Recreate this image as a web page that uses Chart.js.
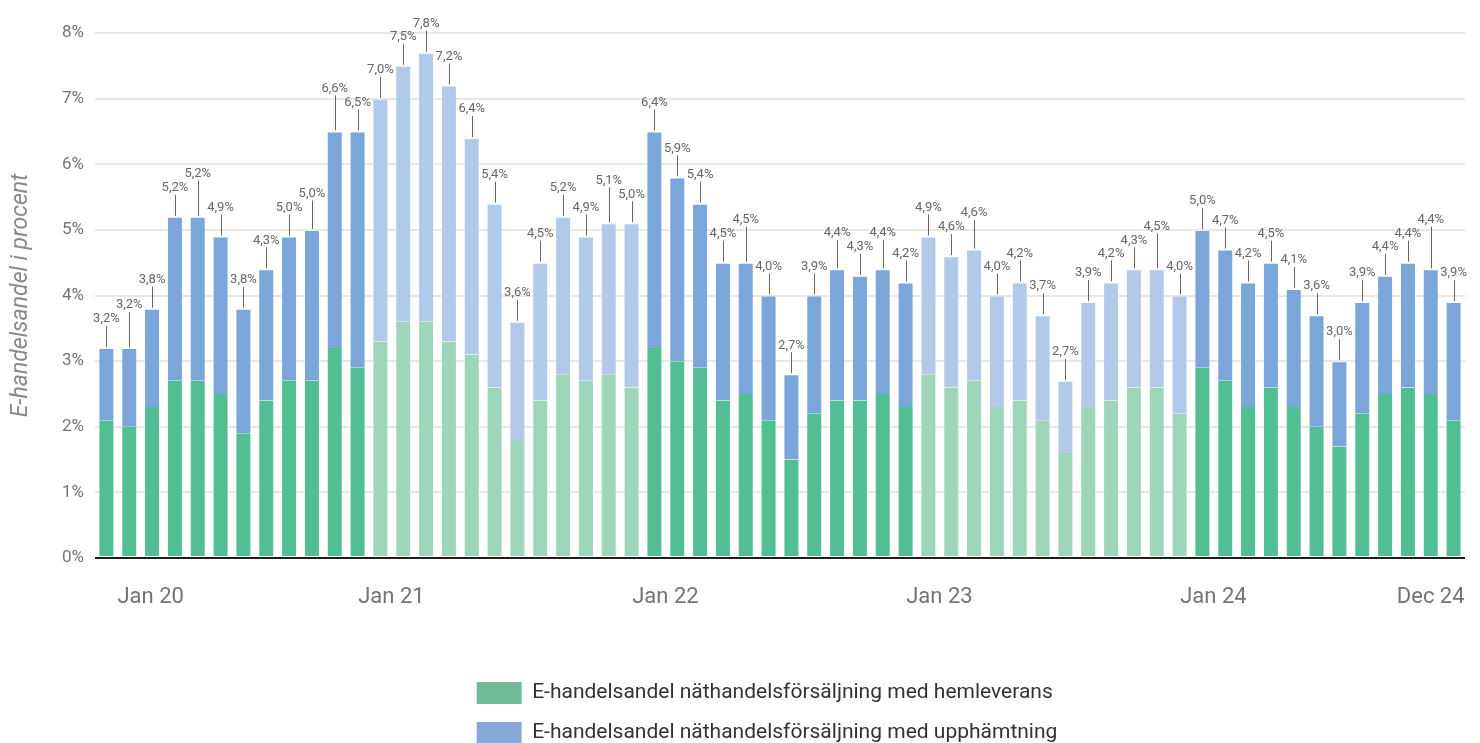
<!DOCTYPE html>
<html>
<head>
<meta charset="utf-8">
<script src="https://cdn.jsdelivr.net/npm/chart.js@4.4.1/dist/chart.umd.min.js"></script>
<style>
  html, body { margin: 0; padding: 0; background: #ffffff; }
  #wrap { width: 1480px; height: 743px; position: relative; }
</style>
</head>
<body>
<div id="wrap"><canvas id="c" width="1480" height="743"></canvas></div>
<script>
// ---------- data ----------
const monthNames = ['Jan','Feb','Mar','Apr','Maj','Jun','Jul','Aug','Sep','Okt','Nov','Dec'];
const years = ['20','21','22','23','24'];
const months = years.flatMap(y => monthNames.map(m => m + ' ' + y));

const tickLabels = ['Jan 20','Jan 21','Jan 22','Jan 23','Jan 24','Dec 24'];
const lightYears = ['21','23'];

// E-handelsandel med hemleverans (%)
const homeDelivery = [
  2.1, 2.0, 2.3, 2.7, 2.7, 2.5, 1.9, 2.4, 2.7, 2.7, 3.2, 2.9,
  3.3, 3.6, 3.6, 3.3, 3.1, 2.6, 1.8, 2.4, 2.8, 2.7, 2.8, 2.6,
  3.2, 3.0, 2.9, 2.4, 2.5, 2.1, 1.5, 2.2, 2.4, 2.4, 2.5, 2.3,
  2.8, 2.6, 2.7, 2.3, 2.4, 2.1, 1.6, 2.3, 2.4, 2.6, 2.6, 2.2,
  2.9, 2.7, 2.3, 2.6, 2.3, 2.0, 1.7, 2.2, 2.5, 2.6, 2.5, 2.1
];
// E-handelsandel med upphämtning (%)
const pickup = [
  1.1, 1.2, 1.5, 2.5, 2.5, 2.4, 1.9, 2.0, 2.2, 2.3, 3.3, 3.6,
  3.7, 3.9, 4.1, 3.9, 3.3, 2.8, 1.8, 2.1, 2.4, 2.2, 2.3, 2.5,
  3.3, 2.8, 2.5, 2.1, 2.0, 1.9, 1.3, 1.8, 2.0, 1.9, 1.9, 1.9,
  2.1, 2.0, 2.0, 1.7, 1.8, 1.6, 1.1, 1.6, 1.8, 1.8, 1.8, 1.8,
  2.1, 2.0, 1.9, 1.9, 1.8, 1.7, 1.3, 1.7, 1.8, 1.9, 1.9, 1.8
];
// Printed total share above each bar (%)
const totalLabels = [
  3.2, 3.2, 3.8, 5.2, 5.2, 4.9, 3.8, 4.3, 5.0, 5.0, 6.6, 6.5,
  7.0, 7.5, 7.8, 7.2, 6.4, 5.4, 3.6, 4.5, 5.2, 4.9, 5.1, 5.0,
  6.4, 5.9, 5.4, 4.5, 4.5, 4.0, 2.7, 3.9, 4.4, 4.3, 4.4, 4.2,
  4.9, 4.6, 4.6, 4.0, 4.2, 3.7, 2.7, 3.9, 4.2, 4.3, 4.5, 4.0,
  5.0, 4.7, 4.2, 4.5, 4.1, 3.6, 3.0, 3.9, 4.4, 4.4, 4.4, 3.9
];

const seriesNames = [
  'E-handelsandel näthandelsförsäljning med hemleverans',
  'E-handelsandel näthandelsförsäljning med upphämtning'
];

// ---------- styles ----------
const COLORS = {
  green: '#52be93', greenLight: '#9dd6ba',
  blue: '#7aa6d9', blueLight: '#b1cae9',
  legend: ['#70bc98', '#86a9d9']
};
const isLight = i => lightYears.includes(months[i].slice(-2));

Chart.defaults.font.family = "Roboto, 'Open Sans', sans-serif";

// Value labels with leader lines, staggered to avoid collisions
const shareLabels = {
  id: 'shareLabels',
  afterDatasetsDraw(chart) {
    const ctx = chart.ctx;
    const topMeta = chart.getDatasetMeta(1).data;
    const n = totalLabels.length;
    const tops = [], xs = [];
    for (let i = 0; i < n; i++) { tops[i] = topMeta[i].y; xs[i] = topMeta[i].x; }
    const order = [...Array(n).keys()].sort((a, b) => (totalLabels[a] - totalLabels[b]) || (a - b));
    const pos = new Array(n);
    const BASE = 29, MIN_GAP = 11, STEP = 14;
    for (const i of order) {
      let y = tops[i] - BASE;
      let moved = true;
      while (moved) {
        moved = false;
        for (const j of [i - 1, i + 1]) {
          if (pos[j] !== undefined && Math.abs(y - pos[j]) < MIN_GAP) { y = pos[j] - STEP; moved = true; }
        }
      }
      pos[i] = y;
    }
    ctx.save();
    ctx.strokeStyle = '#6d6363';
    ctx.lineWidth = 1;
    ctx.fillStyle = '#666666';
    ctx.font = "13px Roboto, 'Open Sans', sans-serif";
    ctx.textAlign = 'center';
    ctx.textBaseline = 'middle';
    for (let i = 0; i < n; i++) {
      const x = Math.round(xs[i]) + 0.5;
      ctx.beginPath();
      ctx.moveTo(x, tops[i] - 1);
      ctx.lineTo(x, pos[i] + 7);
      ctx.stroke();
      ctx.fillText(totalLabels[i].toFixed(1).replace('.', ',') + '%', xs[i], pos[i]);
    }
    ctx.restore();
  }
};

// Legend items stacked in two rows, left-aligned as a centred block
const LEGEND_BLOCK = 660;
const legendRows = {
  id: 'legendRows',
  beforeLayout(chart) {
    const lg = chart.legend;
    if (lg && !lg.__rowsPatched) {
      const orig = lg.update;
      lg.update = function (maxWidth, maxHeight, margins) {
        orig.call(this, Math.min(maxWidth, LEGEND_BLOCK), maxHeight, margins);
      };
      lg.__rowsPatched = true;
    }
  },
  afterLayout(chart) {
    const lg = chart.legend;
    if (!lg || !lg.lineWidths) return;
    const pad = lg.options.labels.padding;
    const widest = Math.max(...lg.lineWidths) - pad;
    const cx = chart.width / 2 + 27;
    lg.left = cx - widest / 2 - pad;
    lg.right = lg.left + LEGEND_BLOCK;
    lg.width = LEGEND_BLOCK;
  }
};

new Chart(document.getElementById('c'), {
  type: 'bar',
  data: {
    labels: months,
    datasets: [
      {
        label: seriesNames[0],
        data: homeDelivery,
        backgroundColor: months.map((m, i) => isLight(i) ? COLORS.greenLight : COLORS.green),
        borderColor: 'rgba(255,255,255,0.35)',
        borderWidth: 1,
        borderSkipped: 'end',
        barPercentage: 0.7,
        categoryPercentage: 1
      },
      {
        label: seriesNames[1],
        data: pickup,
        backgroundColor: months.map((m, i) => isLight(i) ? COLORS.blueLight : COLORS.blue),
        borderColor: 'rgba(255,255,255,0.35)',
        borderWidth: 1,
        borderSkipped: 'start',
        barPercentage: 0.7,
        categoryPercentage: 1
      }
    ]
  },
  options: {
    responsive: false,
    animation: false,
    layout: { padding: { top: 33, right: 15, left: 0, bottom: 0 } },
    scales: {
      x: {
        stacked: true,
        grid: { display: false, drawTicks: false },
        border: { display: false },
        ticks: {
          autoSkip: false, maxRotation: 0, minRotation: 0,
          align: 'inner', labelOffset: 11, padding: 26,
          color: '#747474', font: { size: 22 },
          callback: (v, i) => tickLabels.includes(months[i]) ? months[i] : ''
        },
        afterFit: s => { s.height = 106; }
      },
      y: {
        stacked: true, min: 0, max: 8,
        ticks: { stepSize: 1, callback: v => v + '%', color: '#747474', font: { size: 17 }, padding: 11 },
        grid: {
          drawTicks: false,
          color: c => (c.tick && c.tick.value === 0) ? '#1f1f1f' : '#e9e7e4',
          lineWidth: 2
        },
        border: { display: false },
        title: {
          display: true, text: 'E-handelsandel i procent', color: '#8a8a8a',
          font: { size: 23, style: 'italic' }, padding: { top: 7, bottom: 0 }
        },
        afterFit: s => { s.width = 95; }
      }
    },
    plugins: {
      legend: {
        position: 'bottom', align: 'start', maxHeight: 79,
        labels: {
          boxWidth: 45, boxHeight: 22, padding: 18, color: '#333333', font: { size: 21 },
          generateLabels: chart => chart.data.datasets.map((ds, i) => ({
            text: ds.label, fillStyle: COLORS.legend[i], strokeStyle: COLORS.legend[i],
            lineWidth: 0, hidden: false, datasetIndex: i, fontColor: '#333333'
          }))
        }
      },
      tooltip: { enabled: false }
    }
  },
  plugins: [shareLabels, legendRows]
});
</script>
</body>
</html>
